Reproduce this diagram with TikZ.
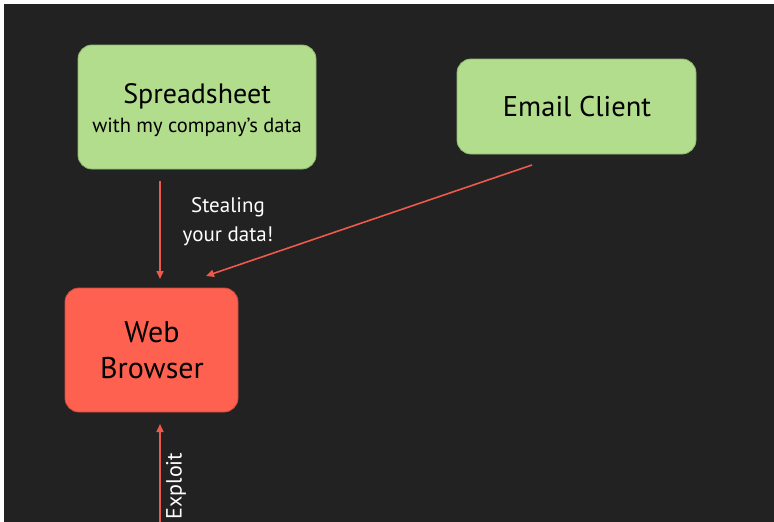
\documentclass[tikz,border=0pt]{standalone}
\usepackage{fontspec}
\setmainfont{PT Sans}
\usetikzlibrary{arrows.meta}
\definecolor{bg}{HTML}{222222}
\definecolor{leaf}{HTML}{B2DD8D}
\definecolor{leafedge}{HTML}{8FB870}
\definecolor{alarm}{HTML}{FF6150}
\definecolor{alarmedge}{HTML}{D04A3C}
\definecolor{link}{HTML}{EC5A4B}
\tikzset{
  x=1pt, y=-1pt,
  card/.style={rounded corners=14pt, draw=#1, line width=0.8pt},
  flow/.style={draw=link, line width=1.6pt, -{Triangle[length=8pt,width=7pt]}},
  caption/.style={text=white, font=\fontsize{21}{31}\selectfont, align=center}
}
\begin{document}
\begin{tikzpicture}
  % canvas with the thin light margin on top and left
  \fill[white] (0,0) rectangle (774,522);
  \fill[bg] (4,4) rectangle (774,522);
  \useasboundingbox (0,0) rectangle (774,522);

  % boxes
  \draw[card=leafedge, fill=leaf] (78,45) rectangle (316,169);
  \node[text=black, font=\fontsize{28}{30}\selectfont] (sheet) at (197,96) {Spreadsheet};
  \node[text=black, font=\fontsize{20.5}{24}\selectfont] (sheetsub) at (197,127) {with my company’s data};
  \coordinate (sheetS) at (160,181);

  \draw[card=leafedge, fill=leaf] (457,59) rectangle (696,154);
  \node[text=black, font=\fontsize{28.5}{30}\selectfont] (mail) at (577,107) {Email Client};
  \coordinate (mailS) at (532,165);

  \draw[card=alarmedge, fill=alarm] (65,288) rectangle (238,412);
  \node[text=black, align=center, font=\fontsize{30}{36}\selectfont] (web) at (152,350) {Web\\Browser};
  \coordinate (webN) at (160,279);
  \coordinate (webNE) at (206,276);
  \coordinate (webS) at (160,424);
  \coordinate (base) at (160,523);

  % connectors
  \draw[flow] (sheetS) -- (webN);
  \draw[flow] (mailS) -- (webNE);
  \draw[flow] (base) -- (webS);

  % labels
  \node[caption] (steal) at (228,222) {Stealing\\[-2pt]your data!};
  \node[text=white, font=\fontsize{22}{24}\selectfont, rotate=90] (exploit) at (176,486) {Exploit};
\end{tikzpicture}
\end{document}
